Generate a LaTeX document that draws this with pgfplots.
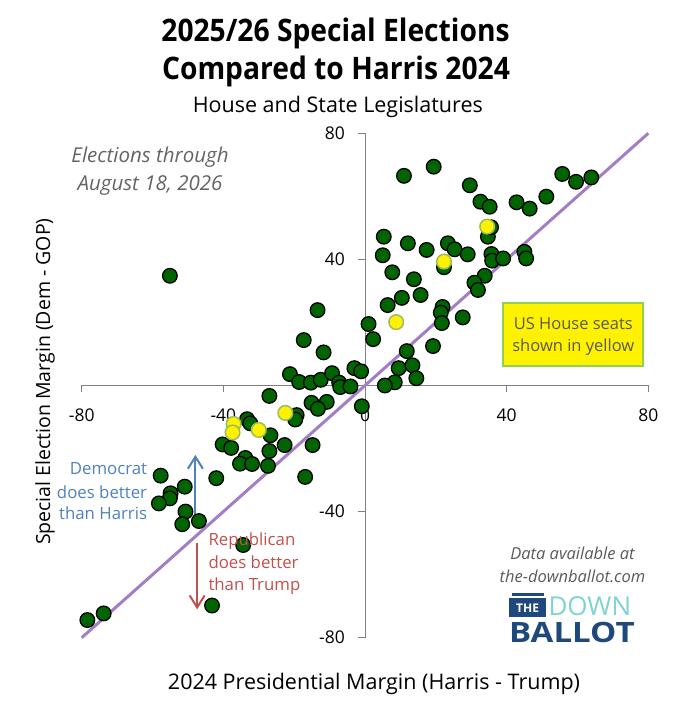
\documentclass[border=0pt]{standalone}
\usepackage{pgfplots}
\pgfplotsset{compat=1.18}
\usepackage{fontspec}
\setmainfont{Open Sans}
\usetikzlibrary{arrows.meta}
\definecolor{dotgreen}{RGB}{0,100,0}
\definecolor{yelborder}{RGB}{155,190,89}
\definecolor{boxborder}{RGB}{146,208,80}
\definecolor{purpleline}{RGB}{164,125,201}
\definecolor{annblue}{RGB}{79,129,189}
\definecolor{annred}{RGB}{192,80,77}
\definecolor{anngray}{RGB}{100,100,100}
\definecolor{boxgray}{RGB}{89,89,89}
\definecolor{axgray}{RGB}{128,128,128}
\definecolor{logoblue}{RGB}{31,73,125}
\definecolor{logoteal}{RGB}{127,211,206}
\newcommand{\fs}[1]{\fontsize{#1bp}{#1bp}\selectfont}
\begin{document}
\begin{tikzpicture}[x=1bp,y=1bp]
\useasboundingbox (0,0) rectangle (680,713);
\begin{axis}[
  at={(81.7bp,75.3bp)}, anchor=south west,
  scale only axis, width=566.6bp, height=504.4bp,
  xmin=-80, xmax=80, ymin=-80, ymax=80,
  axis lines=middle,
  axis line style={-, draw=axgray, line width=0.8bp},
  xtick={-80,-40,0,40,80}, xticklabels={-80,-40,0,40,80},
  ytick={-80,-40,40,80}, yticklabels={-80,-40,40,80},
  hide obscured x ticks=false, hide obscured y ticks=false,
  tick align=outside, major tick length=7bp,
  tick style={draw=axgray, line width=0.8bp},
  xticklabel style={anchor=center, inner sep=0pt, yshift=-23bp, font=\fs{17.5}},
  yticklabel style={anchor=east, inner sep=0pt, xshift=-13bp, font=\fs{17.5}},
  clip=false,
]
\addplot[purpleline, line width=3bp] coordinates {(-80,-80) (80,80)};
\addplot[only marks, mark=*, mark size=7.3bp, mark options={draw=black, fill=dotgreen, line width=1.3bp}] coordinates {
(11.0,66.5) (19.4,69.4) (29.6,63.5) (32.6,58.3) (35.2,56.7) (42.8,58.1) (46.5,56.1)
(51.2,59.9) (55.7,67.1) (59.6,64.6) (63.9,66.0) (34.7,47.2) (35.6,50.2) (5.3,47.2)
(5.0,41.3) (12.1,45.1) (17.4,43.0) (23.4,45.1) (25.3,43.2) (29.0,41.6) (22.3,37.5)
(35.7,41.7) (35.9,39.6) (39.0,40.3) (45.0,42.4) (45.5,40.3) (7.7,35.9) (13.8,33.7)
(33.8,34.8) (30.9,32.6) (31.9,30.3) (10.4,27.8) (15.7,28.7) (6.4,25.5) (1.0,19.5)
(2.3,14.7) (11.8,10.9) (19.2,12.5) (21.9,24.9) (21.4,23.1) (21.7,19.8) (27.6,21.6)
(9.5,5.5) (13.4,6.4) (14.5,2.3) (8.4,1.0) (5.6,0.0)
(-55.1,34.8) (-13.4,23.9) (-17.3,14.4) (-11.7,10.5) (-21.2,3.6) (-18.6,1.1)
(-15.3,0.9) (-12.5,1.8) (-9.3,3.9) (-7.3,0.9) (-7.0,-0.5) (-4.1,-0.3) (-3.0,5.5)
(-1.1,4.5) (-0.9,-6.6) (-27.0,-3.3) (-15.1,-5.5) (-10.8,-5.2) (-13.3,-7.4)
(-19.3,-9.4) (-19.7,-10.8) (-33.3,-10.7) (-32.4,-12.0) (-26.7,-15.8) (-22.7,-18.9)
(-14.8,-18.9) (-27.0,-20.8) (-40.2,-18.7) (-37.8,-19.8) (-33.8,-23.0) (-35.3,-24.8)
(-31.9,-24.9) (-27.4,-25.5) (-42.0,-29.4) (-16.9,-29.0) (-57.7,-28.6) (-50.9,-32.1)
(-54.9,-34.2) (-55.1,-35.8) (-58.2,-37.4) (-50.7,-40.0) (-51.6,-44.0) (-46.9,-43.0)
(-34.4,-50.6) (-43.2,-69.8) (-73.8,-72.3) (-78.4,-74.4)
};
\addplot[only marks, mark=*, mark size=7.3bp, mark options={draw=yelborder, fill=yellow, line width=1.5bp}] coordinates {
(34.5,50.4) (22.3,39.3) (8.8,20.1) (-22.5,-8.7) (-37.1,-12.2) (-37.4,-14.9) (-30.0,-14.1)
};
\draw[annblue, line width=2bp, -{Straight Barb[length=12bp,width=15bp,line width=2bp]}] (axis cs:-47.9,-43.5) -- (axis cs:-47.9,-22.0);
\draw[annred, line width=2bp, -{Straight Barb[length=12bp,width=15bp,line width=2bp]}] (axis cs:-47.4,-50.1) -- (axis cs:-47.4,-71.0);
\end{axis}
% titles
\node[anchor=base, font=\fs{31}\bfseries] at (335.5,671.3) {\scalebox{0.91}[1]{2025/26 Special Elections}};
\node[anchor=base, font=\fs{31}\bfseries] at (336,633) {\scalebox{0.91}[1]{Compared to Harris 2024}};
\node[anchor=base, font=\fs{21.5}] at (337.8,600.3) {House and State Legislatures};
% axis labels
\node[rotate=90, font=\fs{19.5}] at (45,331.3) {Special Election Margin (Dem - GOP)};
\node[anchor=base, font=\fs{21.5}] at (374,23.7) {2024 Presidential Margin (Harris - Trump)};
% annotations
\node[anchor=base, font=\fs{20.5}\itshape, text=anngray] at (150,550.7) {Elections through};
\node[anchor=base, font=\fs{20.5}\itshape, text=anngray] at (150,522.3) {August 18, 2026};
\node[anchor=base east, inner sep=0pt, font=\fs{16.8}, text=annblue] at (147.3,238) {Democrat};
\node[anchor=base east, inner sep=0pt, font=\fs{16.8}, text=annblue] at (147.3,214.7) {does better};
\node[anchor=base east, inner sep=0pt, font=\fs{16.8}, text=annblue] at (147.3,193) {than Harris};
\node[anchor=base west, inner sep=0pt, font=\fs{16.8}, text=annred] at (208.3,167.3) {Republican};
\node[anchor=base west, inner sep=0pt, font=\fs{16.8}, text=annred] at (208.3,144.7) {does better};
\node[anchor=base west, inner sep=0pt, font=\fs{16.8}, text=annred] at (208.3,122.3) {than Trump};
% yellow box
\draw[boxborder, fill=yellow, line width=2bp] (503.3,347) rectangle (643.3,409.7);
\node[anchor=base, font=\fs{16.5}, text=boxgray] at (573.3,383.7) {US House seats};
\node[anchor=base, font=\fs{16.5}, text=boxgray] at (573.3,361.3) {shown in yellow};
% data source
\node[anchor=base, font=\fs{16.5}\itshape, text=boxgray] at (572.5,153) {Data available at};
\node[anchor=base, font=\fs{16.5}\itshape, text=boxgray] at (572.5,130) {the-downballot.com};
% logo
\fill[logoblue] (511.7,117) rectangle (544,120.4);
\fill[logoblue] (509.3,96.4) rectangle (546,115.4);
\node[anchor=base, inner sep=0pt, font=\fs{12}\bfseries, text=white] at (527.6,100.7) {THE};
\node[anchor=base west, inner sep=0pt, font=\fs{26}, text=logoteal] at (548.3,97) {DOWN};
\node[anchor=base west, inner sep=0pt, font=\fs{28}\bfseries, text=logoblue] at (509,70.8) {\scalebox{1.18}[1]{BALLOT}};
\end{tikzpicture}
\end{document}
